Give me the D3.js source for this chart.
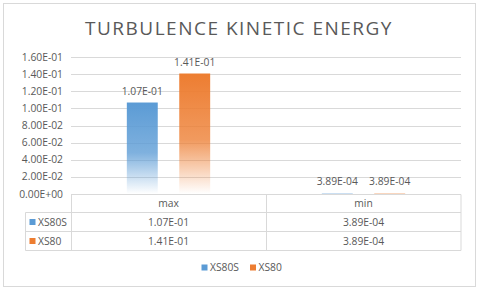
<!DOCTYPE html>
<html>
<head>
<meta charset="utf-8">
<script src="https://cdn.jsdelivr.net/npm/d3@7"></script>
<style>
  body { margin: 0; background: #fff; }
  svg text { font-family: "Open Sans", "Liberation Sans", sans-serif; fill: #595959; }
</style>
</head>
<body>
<svg id="chart" width="480" height="291"></svg>
<script>
// data
const categories = ["max", "min"];
const seriesNames = ["XS80S", "XS80"];
const seriesColors = ["#5B9BD5", "#ED7D31"];
const xs80sValues = [0.107, 0.000389];
const xs80Values = [0.141, 0.000389];
const yTicks = [0, 0.02, 0.04, 0.06, 0.08, 0.10, 0.12, 0.14, 0.16];

const series = [xs80sValues, xs80Values];
const fs = "10.3px";

// "1.07E-01" style
function fmt(v) {
  let s = v.toExponential(2).toUpperCase();
  return s.replace(/E([+-])(\d)$/, "E$10$2");
}

const svg = d3.select("#chart");
const plotLeft = 71, plotRight = 461, plotTop = 57.3, zeroY = 193.8;

// outer frame
svg.append("rect")
  .attr("x", 3.5).attr("y", 3.5).attr("width", 472).attr("height", 283)
  .attr("fill", "#fff").attr("stroke", "#D9D9D9");

svg.append("text")
  .attr("x", 239).attr("y", 35)
  .attr("text-anchor", "middle")
  .style("font-size", "19px")
  .style("letter-spacing", "1.5px")
  .text("TURBULENCE KINETIC ENERGY");

const y = d3.scaleLinear().domain([0, 0.16]).range([zeroY, plotTop]);
const x = d3.scaleBand().domain(categories).range([plotLeft, plotRight]);
const x1 = d3.scaleBand().domain(seriesNames).range([0, x.bandwidth()])
  .paddingInner(0.41).paddingOuter(1.065);

// gridlines
svg.append("g").selectAll("line")
  .data(yTicks.filter(d => d > 0))
  .enter().append("line")
  .attr("x1", plotLeft).attr("x2", plotRight)
  .attr("y1", d => Math.round(y(d)) + 0.5)
  .attr("y2", d => Math.round(y(d)) + 0.5)
  .attr("stroke", "#D9D9D9");

// y tick labels
svg.append("g").selectAll("text")
  .data(yTicks)
  .enter().append("text")
  .attr("x", 63)
  .attr("y", d => y(d) + 3.7)
  .attr("text-anchor", "end")
  .style("font-size", fs)
  .text(d => fmt(d));

// gradients
const defs = svg.append("defs");
seriesColors.forEach((c, i) => {
  const g = defs.append("linearGradient")
    .attr("id", "grad" + i)
    .attr("x1", 0).attr("y1", 0).attr("x2", 0).attr("y2", 1);
  g.append("stop").attr("offset", "0%").attr("stop-color", c).attr("stop-opacity", 1);
  g.append("stop").attr("offset", "55%").attr("stop-color", c).attr("stop-opacity", 0.78);
  g.append("stop").attr("offset", "100%").attr("stop-color", c).attr("stop-opacity", 0);
});

// bars
series.forEach((vals, si) => {
  const gs = svg.append("g");
  gs.selectAll("rect")
    .data(vals)
    .enter().append("rect")
    .attr("x", (d, i) => x(categories[i]) + x1(seriesNames[si]))
    .attr("width", x1.bandwidth())
    .attr("y", d => y(d))
    .attr("height", d => zeroY - y(d))
    .attr("fill", "url(#grad" + si + ")");
  gs.selectAll("text")
    .data(vals)
    .enter().append("text")
    .attr("x", (d, i) => x(categories[i]) + x1(seriesNames[si]) + x1.bandwidth() / 2)
    .attr("y", d => y(d) - 8)
    .attr("text-anchor", "middle")
    .style("font-size", fs)
    .text(d => fmt(d));
});

// data table
const rowY = [194.5, 212.5, 231.5, 250.5];
const tableLeft = 25.5;
const tg = svg.append("g").attr("stroke", "#D9D9D9").attr("fill", "none");
tg.append("line").attr("x1", plotLeft).attr("x2", plotRight).attr("y1", rowY[0]).attr("y2", rowY[0]);
rowY.slice(1).forEach(ry => {
  tg.append("line").attr("x1", tableLeft).attr("x2", plotRight).attr("y1", ry).attr("y2", ry);
});
tg.append("line").attr("x1", tableLeft).attr("x2", tableLeft).attr("y1", rowY[1]).attr("y2", rowY[3]);
categories.concat([null]).forEach((c, i) => {
  const xx = c ? Math.round(x(c)) + 0.5 : plotRight;
  tg.append("line").attr("x1", xx).attr("x2", xx).attr("y1", rowY[0]).attr("y2", rowY[3]);
});

svg.append("g").selectAll("text")
  .data(categories)
  .enter().append("text")
  .attr("x", d => x(d) + x.bandwidth() / 2)
  .attr("y", (rowY[0] + rowY[1]) / 2 + 3.7)
  .attr("text-anchor", "middle")
  .style("font-size", fs)
  .text(d => d);

series.forEach((vals, si) => {
  const ry = (rowY[si + 1] + rowY[si + 2]) / 2;
  svg.append("rect")
    .attr("x", 29.5).attr("y", ry - 3).attr("width", 6).attr("height", 6)
    .attr("fill", seriesColors[si]);
  svg.append("text")
    .attr("x", 38).attr("y", ry + 3.7)
    .style("font-size", fs)
    .text(seriesNames[si]);
  svg.append("g").selectAll("text")
    .data(vals)
    .enter().append("text")
    .attr("x", (d, i) => x(categories[i]) + x.bandwidth() / 2)
    .attr("y", ry + 3.7)
    .attr("text-anchor", "middle")
    .style("font-size", fs)
    .text(d => fmt(d));
});

// legend
const legendX = [201.5, 250];
seriesNames.forEach((n, i) => {
  svg.append("rect")
    .attr("x", legendX[i]).attr("y", 264.5).attr("width", 6).attr("height", 6)
    .attr("fill", seriesColors[i]);
  svg.append("text")
    .attr("x", legendX[i] + 8.5).attr("y", 271.3)
    .style("font-size", fs)
    .text(n);
});
</script>
</body>
</html>
